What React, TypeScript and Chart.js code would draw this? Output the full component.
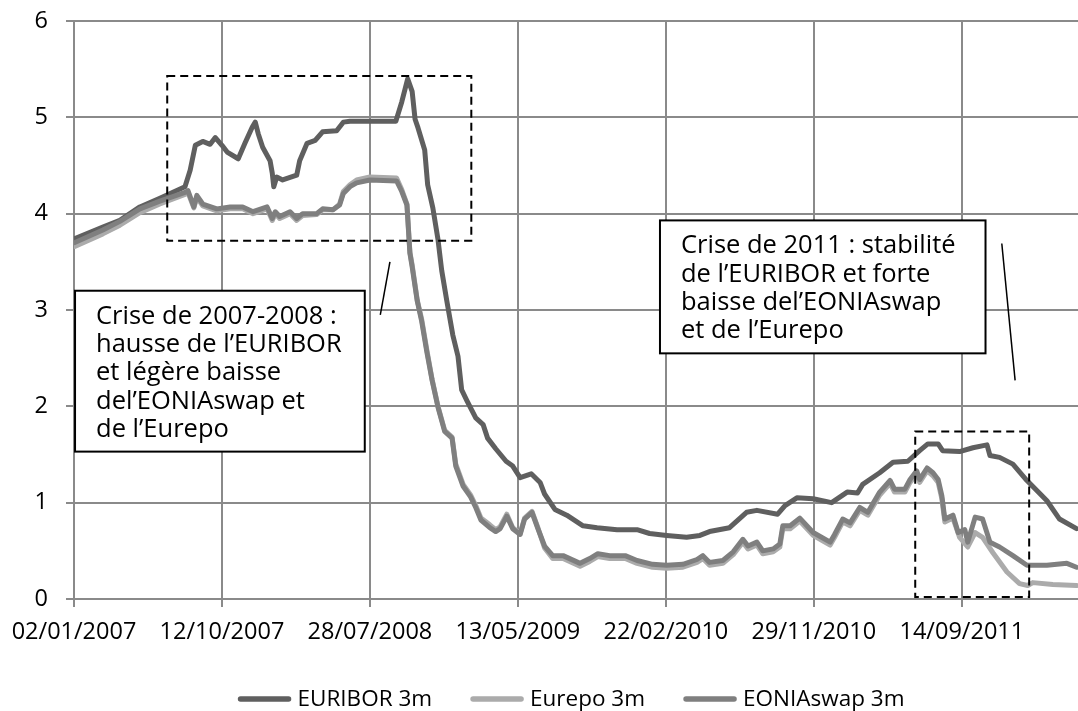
import React, { useEffect, useRef } from "react";
import { Chart, registerables } from "chart.js";

Chart.register(...registerables);

// ---------- data (x = TARGET business-day index since 02/01/2007) ----------
const tickIndex = [0, 200, 400, 600, 800, 1000, 1200];
const tickLabels = ["02/01/2007", "12/10/2007", "28/07/2008", "13/05/2009", "22/02/2010", "29/11/2010", "14/09/2011"];
const seriesNames = ["EURIBOR 3m", "Eurepo 3m", "EONIAswap 3m"];
const yTicks = [0, 1, 2, 3, 4, 5, 6];

const euriborIdx = [1, 39, 62, 89, 116, 150, 157, 164, 174, 184, 191, 200, 207, 222, 231, 241, 245, 249, 255, 265, 268, 270, 274, 282, 301, 305, 315, 326, 336, 355, 364, 373, 400, 435, 443, 451, 457, 461, 465, 474, 478, 485, 492, 497, 504, 512, 519, 524, 531, 543, 553, 559, 570, 584, 593, 603, 618, 630, 636, 650, 666, 688, 707, 734, 761, 778, 801, 828, 846, 859, 886, 909, 923, 951, 961, 977, 999, 1024, 1045, 1059, 1066, 1089, 1107, 1127, 1143, 1154, 1168, 1174, 1197, 1215, 1234, 1238, 1251, 1269, 1288, 1315, 1332, 1355];
const euriborVal = [3.74, 3.86, 3.93, 4.07, 4.16, 4.28, 4.45, 4.71, 4.75, 4.72, 4.79, 4.71, 4.64, 4.57, 4.73, 4.90, 4.95, 4.83, 4.69, 4.55, 4.42, 4.28, 4.38, 4.35, 4.40, 4.55, 4.73, 4.76, 4.85, 4.86, 4.95, 4.96, 4.96, 4.96, 5.16, 5.40, 5.27, 4.98, 4.89, 4.66, 4.30, 4.06, 3.73, 3.41, 3.09, 2.74, 2.52, 2.17, 2.06, 1.88, 1.81, 1.67, 1.56, 1.43, 1.38, 1.26, 1.30, 1.21, 1.09, 0.93, 0.87, 0.76, 0.74, 0.72, 0.72, 0.68, 0.66, 0.64, 0.66, 0.70, 0.74, 0.90, 0.92, 0.88, 0.97, 1.05, 1.04, 1.00, 1.11, 1.10, 1.19, 1.31, 1.42, 1.43, 1.54, 1.61, 1.61, 1.54, 1.53, 1.57, 1.60, 1.49, 1.47, 1.40, 1.23, 1.02, 0.83, 0.73];

const eurepoIdx = [1, 39, 62, 89, 116, 150, 154, 162, 166, 174, 193, 211, 228, 242, 261, 268, 272, 278, 292, 301, 309, 328, 336, 350, 359, 364, 373, 382, 400, 436, 443, 450, 454, 457, 464, 470, 477, 484, 492, 501, 511, 516, 526, 536, 543, 550, 562, 570, 576, 585, 593, 603, 609, 619, 627, 636, 647, 661, 684, 697, 708, 724, 745, 761, 782, 801, 823, 842, 850, 859, 877, 891, 904, 911, 923, 931, 945, 954, 958, 968, 981, 999, 1022, 1028, 1039, 1049, 1062, 1073, 1089, 1103, 1109, 1123, 1130, 1139, 1143, 1153, 1161, 1168, 1173, 1177, 1188, 1197, 1208, 1218, 1228, 1242, 1261, 1278, 1289, 1296, 1323, 1355];
const eurepoVal = [3.66, 3.79, 3.88, 4.01, 4.10, 4.20, 4.22, 4.06, 4.17, 4.08, 4.03, 4.05, 4.05, 4.00, 4.05, 3.93, 4.00, 3.95, 4.00, 3.93, 3.98, 3.99, 4.04, 4.04, 4.10, 4.23, 4.30, 4.35, 4.38, 4.37, 4.25, 4.10, 3.60, 3.47, 3.10, 2.90, 2.58, 2.28, 2.00, 1.75, 1.68, 1.40, 1.19, 1.08, 0.97, 0.84, 0.77, 0.72, 0.75, 0.88, 0.74, 0.68, 0.84, 0.91, 0.74, 0.53, 0.42, 0.42, 0.34, 0.39, 0.44, 0.42, 0.42, 0.37, 0.33, 0.32, 0.33, 0.38, 0.42, 0.35, 0.37, 0.46, 0.59, 0.52, 0.56, 0.47, 0.49, 0.54, 0.73, 0.73, 0.81, 0.66, 0.56, 0.64, 0.80, 0.76, 0.92, 0.87, 1.08, 1.20, 1.11, 1.11, 1.21, 1.30, 1.21, 1.33, 1.28, 1.21, 1.04, 0.80, 0.84, 0.64, 0.54, 0.69, 0.64, 0.48, 0.28, 0.16, 0.14, 0.17, 0.15, 0.14];

const eoniaIdx = [1, 39, 62, 89, 116, 150, 154, 162, 166, 174, 193, 211, 228, 242, 261, 268, 272, 278, 292, 301, 309, 328, 336, 350, 359, 364, 373, 382, 400, 436, 443, 450, 454, 457, 464, 470, 477, 484, 492, 501, 511, 516, 526, 536, 543, 550, 562, 570, 576, 585, 593, 603, 609, 619, 627, 636, 647, 661, 684, 697, 708, 724, 745, 761, 782, 801, 823, 842, 850, 859, 877, 891, 904, 911, 923, 931, 945, 954, 958, 968, 981, 999, 1022, 1028, 1039, 1049, 1062, 1073, 1089, 1103, 1109, 1123, 1130, 1139, 1143, 1153, 1161, 1168, 1173, 1177, 1188, 1195, 1204, 1208, 1218, 1228, 1238, 1251, 1269, 1288, 1315, 1342, 1355];
const eoniaVal = [3.70, 3.83, 3.92, 4.05, 4.13, 4.22, 4.24, 4.07, 4.19, 4.10, 4.05, 4.07, 4.07, 4.02, 4.07, 3.95, 4.02, 3.97, 4.02, 3.95, 4.00, 4.00, 4.05, 4.04, 4.09, 4.21, 4.28, 4.32, 4.35, 4.34, 4.23, 4.09, 3.59, 3.45, 3.09, 2.88, 2.56, 2.27, 1.99, 1.74, 1.67, 1.38, 1.17, 1.06, 0.95, 0.82, 0.74, 0.70, 0.73, 0.86, 0.73, 0.67, 0.83, 0.90, 0.73, 0.55, 0.45, 0.45, 0.37, 0.42, 0.47, 0.45, 0.45, 0.40, 0.36, 0.35, 0.36, 0.41, 0.45, 0.38, 0.40, 0.49, 0.62, 0.55, 0.59, 0.50, 0.52, 0.57, 0.76, 0.76, 0.84, 0.69, 0.59, 0.67, 0.83, 0.79, 0.95, 0.90, 1.11, 1.23, 1.14, 1.14, 1.24, 1.33, 1.24, 1.36, 1.31, 1.24, 1.07, 0.83, 0.87, 0.69, 0.72, 0.59, 0.85, 0.83, 0.59, 0.54, 0.45, 0.35, 0.35, 0.37, 0.33];

// ---------- annotations (data coordinates) ----------
const dashedZones = [
  { x0: 126, x1: 537, y0: 3.72, y1: 5.43 },
  { x0: 1137, x1: 1291, y0: 0.02, y1: 1.74 },
];
const connectors = [
  { x0: 427, y0: 3.5, x1: 414, y1: 2.95 },
  { x0: 1254, y0: 3.69, x1: 1272, y1: 2.27 },
];
const noteBoxes = [
  {
    x0: 1.4, x1: 393, y0: 1.53, y1: 3.2,
    lines: ["Crise de 2007-2008 :", "hausse de l\u2019EURIBOR", "et l\u00e9g\u00e8re baisse", "del\u2019EONIAswap et", "de l\u2019Eurepo"],
  },
  {
    x0: 792, x1: 1232, y0: 2.55, y1: 3.93,
    lines: ["Crise de 2011 : stabilit\u00e9", "de l\u2019EURIBOR et forte", "baisse del\u2019EONIAswap", "et de l\u2019Eurepo"],
  },
];

const FONT = "'Open Sans', Lato, sans-serif";
const GRID = "#8a8a8a";
const colors = ["#5f5f5f", "#ababab", "#7f7f7f"];

const toPoints = (idx: number[], val: number[]) => idx.map((x, i) => ({ x, y: val[i] }));

const annotationPlugin = {
  id: "notes",
  afterDatasetsDraw(chart: any) {
    const { ctx } = chart;
    const xs = chart.scales.x;
    const ys = chart.scales.y;
    const px = (v: number) => xs.getPixelForValue(v);
    const py = (v: number) => ys.getPixelForValue(v);
    ctx.save();
    ctx.strokeStyle = "#000";
    ctx.lineWidth = 2;
    ctx.setLineDash([8, 5]);
    dashedZones.forEach((r) => {
      ctx.strokeRect(px(r.x0), py(r.y1), px(r.x1) - px(r.x0), py(r.y0) - py(r.y1));
    });
    ctx.setLineDash([]);
    ctx.lineWidth = 1.5;
    connectors.forEach((c) => {
      ctx.beginPath();
      ctx.moveTo(px(c.x0), py(c.y0));
      ctx.lineTo(px(c.x1), py(c.y1));
      ctx.stroke();
    });
    noteBoxes.forEach((b) => {
      const l = px(b.x0);
      const t = py(b.y1);
      const w = px(b.x1) - l;
      const h = py(b.y0) - t;
      ctx.fillStyle = "#fff";
      ctx.fillRect(l, t, w, h);
      ctx.lineWidth = 2;
      ctx.strokeStyle = "#000";
      ctx.strokeRect(l, t, w, h);
      ctx.fillStyle = "#000";
      ctx.font = `25.5px ${FONT}`;
      ctx.textAlign = "left";
      ctx.textBaseline = "alphabetic";
      b.lines.forEach((s, i) => ctx.fillText(s, l + 21, t + 33 + i * 28.3));
    });
    ctx.restore();
  },
};

const legendPlugin = {
  id: "bottomLegend",
  afterDraw(chart: any) {
    const { ctx, chartArea } = chart;
    const ds = chart.data.datasets;
    ctx.save();
    ctx.font = `22.5px ${FONT}`;
    const lineW = 54;
    const gapText = 6;
    const gapItem = 38;
    const widths = ds.map((d: any) => ctx.measureText(d.label).width);
    const total = widths.reduce((a: number, w: number) => a + lineW + gapText + w, 0) + gapItem * (ds.length - 1);
    let x = (chartArea.left + chartArea.right) / 2 - 5 - total / 2;
    const yc = chartArea.bottom + 100;
    ds.forEach((d: any, i: number) => {
      ctx.strokeStyle = d.borderColor;
      ctx.lineWidth = 5.5;
      ctx.lineCap = "round";
      ctx.beginPath();
      ctx.moveTo(x + 3, yc);
      ctx.lineTo(x + lineW - 3, yc);
      ctx.stroke();
      ctx.fillStyle = "#000";
      ctx.textAlign = "left";
      ctx.textBaseline = "middle";
      ctx.fillText(d.label, x + lineW + gapText, yc + 1);
      x += lineW + gapText + widths[i] + gapItem;
    });
    ctx.restore();
  },
};

export default function App() {
  const canvasRef = useRef<HTMLCanvasElement | null>(null);

  useEffect(() => {
    const canvas = canvasRef.current;
    if (!canvas) return;
    const mk = (i: number, pts: { x: number; y: number }[], order: number) => ({
      label: seriesNames[i],
      data: pts,
      borderColor: colors[i],
      backgroundColor: colors[i],
      borderWidth: 5,
      pointRadius: 0,
      pointHoverRadius: 0,
      tension: 0,
      fill: false,
      borderJoinStyle: "round" as const,
      borderCapStyle: "round" as const,
      order,
    });
    const chart = new Chart(canvas, {
      type: "line",
      data: {
        datasets: [
          mk(0, toPoints(euriborIdx, euriborVal), 2),
          mk(1, toPoints(eurepoIdx, eurepoVal), 1),
          mk(2, toPoints(eoniaIdx, eoniaVal), 0),
        ],
      },
      options: {
        animation: false,
        responsive: false,
        devicePixelRatio: 1,
        layout: { padding: { top: 21, right: 0, bottom: 72, left: 0 } },
        plugins: { legend: { display: false }, tooltip: { enabled: false } },
        events: [],
        scales: {
          x: {
            type: "linear",
            min: 0,
            max: 1357,
            afterBuildTicks: (s: any) => {
              s.ticks = tickIndex.map((v) => ({ value: v }));
            },
            afterFit: (s: any) => {
              s.height = 40;
            },
            ticks: {
              autoSkip: false,
              maxRotation: 0,
              minRotation: 0,
              padding: 11,
              color: "#000",
              font: { family: FONT, size: 23.5 },
              callback: (v: any) => {
                const i = tickIndex.indexOf(Number(v));
                return i >= 0 ? tickLabels[i] : "";
              },
            },
            grid: { color: GRID, lineWidth: 2, tickLength: 8, drawTicks: true },
            border: { color: GRID, width: 2 },
          },
          y: {
            type: "linear",
            min: 0,
            max: 6,
            afterBuildTicks: (s: any) => {
              s.ticks = yTicks.map((v) => ({ value: v }));
            },
            afterFit: (s: any) => {
              s.width = 74;
              s.paddingTop = 0;
              s.paddingBottom = 0;
            },
            ticks: {
              padding: 18,
              color: "#000",
              font: { family: FONT, size: 23.5 },
            },
            grid: { color: GRID, lineWidth: 2, tickLength: 8, drawTicks: true },
            border: { color: GRID, width: 2 },
          },
        },
      },
      plugins: [annotationPlugin, legendPlugin],
    });
    return () => chart.destroy();
  }, []);

  return (
    <div style={{ position: "absolute", left: 0, top: 0, width: 1078, height: 711, background: "#fff" }}>
      <canvas ref={canvasRef} width={1078} height={711} style={{ display: "block", width: 1078, height: 711 }} />
    </div>
  );
}
